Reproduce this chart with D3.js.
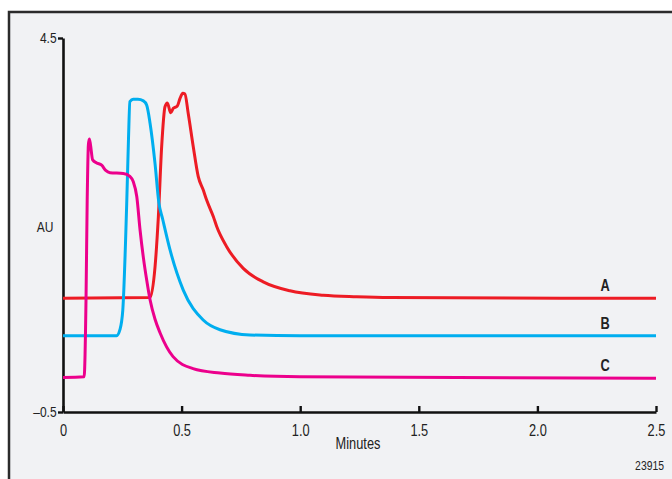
<!DOCTYPE html>
<html><head><meta charset="utf-8">
<script src="https://cdn.jsdelivr.net/npm/d3@7"></script>
<style>
html,body{margin:0;padding:0;background:#fff;}
svg{display:block;}
text{font-family:"Liberation Sans Narrow","Arial Narrow","Liberation Sans",sans-serif;fill:#222;}
</style></head>
<body><svg id="chart" width="672" height="479"></svg>
<script>
// Data (minutes, AU)
const seriesA = [[0,1.02],[0.367,1.03],[0.388,1.44],[0.402,2.11],[0.416,3.05],[0.430,3.58],[0.440,3.63],[0.454,3.50],[0.465,3.56],[0.482,3.59],[0.493,3.69],[0.505,3.76],[0.514,3.75],[0.528,3.49],[0.549,3.05],[0.570,2.65],[0.591,2.47],[0.606,2.33],[0.634,2.11],[0.648,1.98],[0.690,1.71],[0.760,1.42],[0.844,1.24],[0.957,1.12],[1.097,1.06],[1.238,1.04],[1.379,1.03],[2.5,1.02]];
const seriesB = [[0,0.52],[0.226,0.52],[0.240,0.60],[0.252,0.86],[0.269,2.33],[0.276,3.14],[0.282,3.65],[0.296,3.68],[0.316,3.68],[0.339,3.66],[0.353,3.60],[0.367,3.36],[0.388,2.82],[0.404,2.30],[0.420,2.08],[0.451,1.67],[0.507,1.13],[0.591,0.73],[0.662,0.60],[0.788,0.53],[0.999,0.52],[2.5,0.52]];
const seriesC = [[0,-0.04],[0.089,-0.03],[0.097,1.0],[0.102,2.33],[0.107,3.07],[0.111,3.15],[0.116,3.07],[0.125,2.87],[0.142,2.83],[0.163,2.80],[0.180,2.73],[0.198,2.70],[0.254,2.69],[0.282,2.65],[0.296,2.58],[0.311,2.38],[0.325,1.93],[0.339,1.56],[0.353,1.26],[0.367,1.00],[0.388,0.74],[0.409,0.56],[0.464,0.24],[0.548,0.08],[0.662,0.02],[0.788,-0.01],[0.999,-0.03],[2.5,-0.05]];
const seriesNames = ["A","B","C"];
const seriesColors = ["#ed1c24","#00aeef","#ec008c"];
const xTicks = [0,0.5,1.0,1.5,2.0,2.5];
const xTickLabels = ["0","0.5","1.0","1.5","2.0","2.5"];
const yTicks = [-0.5,4.5];
const yTickLabels = ["\u20130.5","4.5"];
const xTitle = "Minutes";
const yTitle = "AU";
const figId = "23915";

const SX = 0.8;
const svg = d3.select("#chart");
// panel background and frame
svg.append("rect").attr("x",9).attr("y",12).attr("width",700).attr("height",500)
  .attr("fill","#f1f2f4").attr("stroke","#2b2b2b").attr("stroke-width",2.5);

const x = d3.scaleLinear().domain([0,2.5]).range([63,656]);
const y = d3.scaleLinear().domain([-0.5,4.5]).range([412,38]);

// x axis
const xAxis = d3.axisBottom(x).tickValues(xTicks).tickFormat((d,i)=>xTickLabels[i])
  .tickSizeInner(-6).tickSizeOuter(0).tickPadding(13);
const gx = svg.append("g").attr("transform",`translate(0,${y(-0.5)})`).call(xAxis);
gx.select(".domain").attr("stroke","#111").attr("stroke-width",2.6);
gx.selectAll(".tick line").attr("stroke","#111").attr("stroke-width",2.4);
gx.selectAll(".tick text").attr("font-size",16).attr("fill","#222")
  .attr("transform",`scale(${SX},1)`);

// y axis
const yAxis = d3.axisLeft(y).tickValues(yTicks).tickFormat((d,i)=>yTickLabels[i])
  .tickSizeInner(5).tickSizeOuter(0).tickPadding(3);
const gy = svg.append("g").attr("transform",`translate(${x(0)},0)`).call(yAxis);
gy.select(".domain").attr("stroke","#111").attr("stroke-width",2.6);
gy.selectAll(".tick line").attr("stroke","#111").attr("stroke-width",2.4);
gy.selectAll(".tick text").attr("font-size",15).attr("fill","#222")
  .attr("transform",`scale(${SX},1)`);
gx.attr("font-family",null); gy.attr("font-family",null);

function label(tx,ty,str,size,anchor,weight){
  svg.append("text").attr("transform",`translate(${tx},${ty}) scale(${SX},1)`)
    .attr("text-anchor",anchor).attr("font-size",size).attr("font-weight",weight||"normal").text(str);
}
// titles
label(358,449,xTitle,16,"middle");
label(45,232,yTitle,15,"middle");
label(664,470,figId,13,"end");

// curves
const line = d3.line().x(d=>x(d[0])).y(d=>y(d[1])).curve(d3.curveMonotoneX);
[seriesA,seriesB,seriesC].forEach((s,i)=>{
  svg.append("path").datum(s).attr("d",line).attr("fill","none")
    .attr("stroke",seriesColors[i]).attr("stroke-width",3).attr("stroke-linejoin","round");
  const last = s[s.length-1];
  svg.append("text").attr("transform",`translate(${x(2.285)},${y(last[1])-7}) scale(${SX},1)`)
    .attr("text-anchor","middle").attr("font-size",16).attr("font-weight","bold")
    .attr("fill","#1a1a1a").text(seriesNames[i]);
});
</script></body></html>
